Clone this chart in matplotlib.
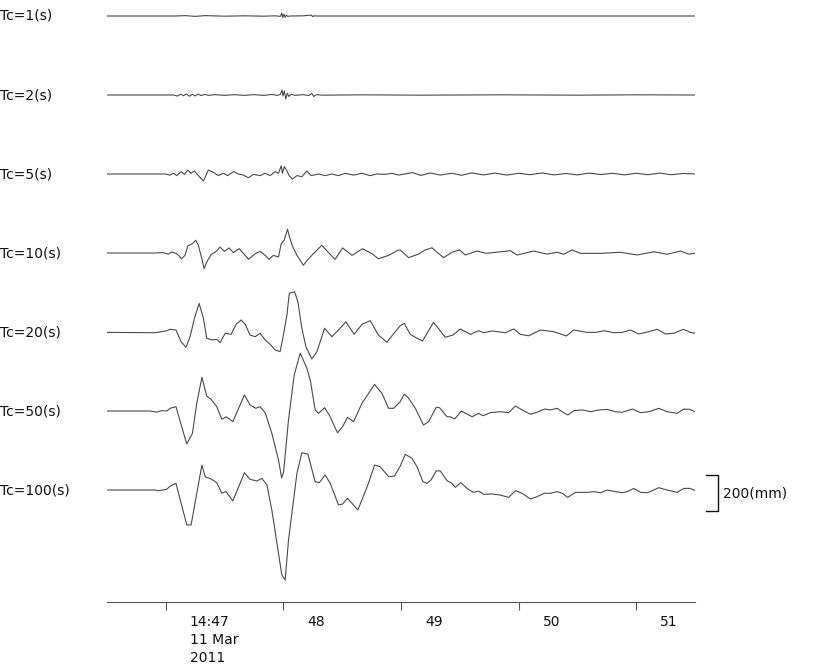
import matplotlib
matplotlib.use("Agg")
import matplotlib.pyplot as plt
import numpy as np

# ---- data: time in seconds after 14:46:30 (11 Mar 2011), amplitude in mm ----
labels = ["Tc=1(s)", "Tc=2(s)", "Tc=5(s)", "Tc=10(s)", "Tc=20(s)", "Tc=50(s)", "Tc=100(s)"]

t_1 = [0, 35, 40, 45, 50, 60, 70, 80, 86, 88.5, 89.2, 89.7, 90.3, 90.9, 91.5, 92.3, 93.5, 100, 104.3, 104.9, 105.6, 107, 150, 300]
a_1 = [0, 0, 2, -2, 2, -1, 1, -1, 1, -2, 16, -9, 10, -7, 4, -2, 0, 1, 5, -4, 1, 0, 0, 0]

t_2 = [0, 34, 36, 37.5, 39, 40.5, 42, 43.5, 45, 46.5, 48, 50, 52, 55, 60, 65, 70, 75, 80, 84, 87, 88.5, 89.3, 89.8, 90.5,
       91.2, 92, 92.8, 94, 96, 100, 103, 104.5, 105.5, 107, 110, 130, 160, 200, 240, 270, 300]
a_2 = [0, 0, -6, 5, -4, 6, -7, 4, -5, 5, -3, 3, -2, 2, -2, 2, -2, 2, -2, 3, -2, 4, 28, -5, 22,
       -22, 10, -8, 4, -2, 2, -3, 9, -8, 2, -1, 1, -1, 1, -1, 1, 0]

t_5 = [0, 29.6, 32.2, 33.9, 35.6, 37.8, 39.5, 41.2, 42.9, 44.6, 46.6, 49.2, 51.7, 54.3, 56.8, 59.4, 61.6, 64.5, 67.0,
       69.6, 72.2, 74.7, 78.1, 80.7, 83.2, 85.8, 87.5, 88.9, 89.5, 90.5, 91.8, 92.9, 94.6, 96.9, 99.4, 102.0, 104.2,
       107.9, 111.3, 114.7, 118.1, 121.5, 125.8, 130.1, 134.3, 137.7, 142.0, 145.4, 148.8, 151.8, 156, 160, 165, 170,
       176, 181, 186, 192, 198, 204, 210, 216, 222, 228, 234, 240, 246, 252, 258, 264, 270, 276, 282, 288, 294, 300]
a_5 = [0, 0, -6, 4, -9, 13, -2, 22, 4, 17, -9, -39, 22, 9, -9, 4, -9, 13, 0,
       -6, -21, -2, -9, 4, -9, 13, 4, 46, 4, 41, 17, -9, -28, -9, -15, 17, -9,
       0, -9, 0, -9, 4, -6, 4, -9, 0, -2, 4, -6, 0, 8, -8, 6, -6,
       4, -7, 6, -5, 5, -6, 4, -4, 6, -5, 3, -5, 5, -3, 4, -5, 4, -4, 5, -4, 3, 0]

t_10 = [0, 24.5, 28.7, 31.3, 33.0, 35.6, 38.1, 39.8, 41.2, 43.6, 45.3, 46.6, 48.4, 49.5, 50.9, 53.1, 55.7, 57.7, 59.9,
        62.3, 64.5, 67.4, 70.5, 72.2, 75.6, 78.1, 80.7, 82.7, 84.9, 87.5, 88.9, 90.4, 92.1, 93.1, 94.6, 96.9, 100.2,
        102.8, 106.2, 109.6, 113.0, 116.4, 120.2, 125.0, 130.4, 135.2, 138.5, 143.7, 148.4, 149.6, 153.9, 159.0, 162.4,
        165.8, 171.7, 176.0, 179.9, 182.8, 188.8, 193.5, 205.8, 209.2, 217.7, 224.5, 229.7, 233.0, 237.3, 241.5, 251.8,
        262.0, 270.5, 279.0, 285.8, 292.6, 296.8, 300]
a_10 = [0, 0, 2, -6, 6, -4, -32, -13, 39, 52, 71, 43, -32, -87, -50, -9, 9, 33, 9,
        28, 2, 24, -13, -35, -4, 9, -13, -35, -13, -22, 52, 71, 132, 89, 39, -13, -68,
        -32, 6, 43, 2, -35, 28, -13, 24, -4, -32, -13, 15, 17, -26, -6, 17,
        29, -26, 4, 17, -11, 11, -2, 13, -11, 11, -6, 4, -7, 17, -2, -2,
        4, -11, 7, -7, 11, -6, -2]

t_20 = [0, 24.5, 27.9, 30.5, 32.2, 35.2, 37.8, 40.3, 42.4, 44.6, 47.0, 49.2, 50.9, 53.5, 56.0, 57.7, 60.3, 63.3, 65.9,
        68.4, 70.5, 73.0, 75.6, 78.1, 80.7, 83.2, 85.8, 88.3, 89.7, 91.8, 93.0, 95.7, 97.4, 99.4, 101.5, 104.5, 107.1,
        111.0, 114.7, 118.1, 121.9, 126.1, 130.1, 134.3, 138.5, 142.8, 147.1, 149.6, 151.7, 154.7, 158.2, 161.0, 166.6,
        172.6, 176.5, 180.3, 185.4, 189.6, 192.2, 196.5, 203.3, 207.5, 210.9, 215.1, 221.1, 227.9, 234.4, 238.1, 245.0,
        249.2, 253.8, 258.6, 262.9, 267.1, 271.3, 276.4, 280.7, 285.0, 289.2, 294.0, 297.7, 300]
a_20 = [-2, -4, 2, 7, 15, 11, -54, -85, -26, 76, 159, 76, -35, -44, -41, -59, -7, -13, 43,
        67, 43, -17, -26, -7, -44, -68, -100, -109, -35, 94, 215, 224, 168, 21, -82, -150, -109,
        21, -26, 11, 57, -13, 43, 63, -17, -57, 2, 35, 48, -13, -35, -50, 54,
        -29, -17, 17, -13, 7, -4, 6, -4, 17, -13, -21, 11, 2, -22, 11, -2,
        -2, 7, -4, -2, 11, -11, 2, 15, -11, -7, 15, -2, -7]

t_50 = [0, 22.0, 25.4, 27.9, 30.5, 32.2, 35.2, 38.1, 40.7, 43.6, 45.8, 48.4, 50.9, 53.1, 56.0, 58.6, 60.8, 64.2, 70.1,
        73.0, 75.9, 78.1, 80.7, 84.1, 87.5, 89.1, 90.1, 92.6, 95.5, 98.6, 102.0, 103.7, 106.2, 107.9, 111.0, 113.4,
        117.6, 120.2, 122.7, 125.8, 130.1, 136.5, 140.3, 143.7, 146.2, 149.6, 151.7, 153.9, 157.3, 161.5, 164.1, 168.0,
        169.7, 173.5, 175.2, 177.4, 180.8, 186.3, 189.6, 191.9, 195.6, 200.7, 204.9, 208.4, 211.8, 216.0, 219.4, 223.2,
        226.2, 229.7, 232.2, 235.1, 238.2, 242.5, 246.7, 251.0, 255.2, 259.4, 262.9, 268.0, 272.2, 276.5, 281.5, 285.8,
        290.9, 294.3, 297.4, 300]
a_50 = [0, 0, -6, 2, 0, 15, 24, -87, -183, -124, 43, 187, 83, 65, 24, -46, -32, -59, 89,
        33, 15, 24, -9, -124, -272, -372, -339, -50, 200, 322, 237, 172, 6, -13, 18, -22,
        -121, -87, -35, -59, 43, 148, 98, 15, 15, 52, 94, 71, 15, -78, -59, 21,
        18, -32, -32, -44, 0, -32, -13, -26, -9, -4, -9, 28, 6, -18, -7, 11,
        6, 15, -4, -22, 2, 6, -4, 6, 9, -4, -7, 11, -9, -4, 15, -4,
        -13, 11, 9, -4]

t_100 = [0, 24.5, 26.2, 30.5, 32.2, 35.2, 40.7, 42.9, 48.4, 50.1, 53.1, 56.0, 58.6, 60.8, 64.2, 70.1, 73.0, 76.5, 79.0,
         81.6, 84.1, 87.5, 89.2, 90.9, 92.6, 96.9, 99.4, 102.5, 106.2, 108.3, 111.3, 113.9, 118.1, 120.2, 122.7, 125.0,
         128.0, 133.4, 136.5, 139.4, 143.7, 146.7, 149.6, 152.2, 155.6, 158.2, 161.2, 163.3, 165.3, 168.0, 170.1, 173.5,
         176.0, 177.7, 180.6, 183.7, 186.8, 189.6, 192.2, 196.5, 200.7, 204.9, 208.4, 211.8, 216.0, 219.4, 223.2, 226.2,
         229.7, 232.2, 235.1, 239.0, 245.0, 248.4, 251.8, 255.2, 259.4, 262.9, 265.4, 268.8, 272.2, 275.6, 278.2, 281.5,
         285.8, 290.9, 294.3, 297.4, 300]
a_100 = [0, 0, -4, 4, 22, 37, -194, -194, 139, 74, 61, 41, -18, -9, -61, 96, 59, 50, 65,
         28, -111, -352, -472, -500, -278, 93, 207, 200, 46, 41, 83, 37, -83, -78, -46, -74,
         -111, 37, 139, 129, 74, 78, 133, 198, 176, 129, 46, 37, 56, 107, 106, 52,
         37, 15, 41, 9, -13, -6, -24, -22, -28, -41, -4, -18, -50, -37, -18, -18,
         -9, -18, -41, -13, -13, -9, -15, 0, -9, -15, -9, 9, -13, -15, -4, 13,
         0, -13, 9, 9, -2]

times = [t_1, t_2, t_5, t_10, t_20, t_50, t_100]
amps = [a_1, a_2, a_5, a_10, a_20, a_50, a_100]

tick_secs = [30, 90, 150, 210, 270]
tick_labels = ["14:47\n11 Mar\n2011", "48", "49", "50", "51"]
scale_mm = 200
scale_label = "200(mm)"

# ---- layout ----
W, H = 819, 666
fig = plt.figure(figsize=(W / 100, H / 100), dpi=100)
px_left, px_right, px_top, px_bottom = 107, 695, 0, 602
ax = fig.add_axes([px_left / W, 1 - px_bottom / H, (px_right - px_left) / W, (px_bottom - px_top) / H])

spacing = 439.0          # mm between trace baselines
mm_per_px = 200 / 36.0
ax.set_xlim(0, 300)
ax.set_ylim(-6 * spacing - (602 - 490) * mm_per_px, 16 * mm_per_px)

line_color = "#4a4a4a"
for i, (t, a) in enumerate(zip(times, amps)):
    base = -i * spacing
    ax.plot(t, np.asarray(a) + base, color=line_color, lw=0.8)
    ax.text(-107 / 1.958, base, labels[i], ha="left", va="center", fontsize=10,
            color="#111111", clip_on=False)

for s in ["left", "right", "top"]:
    ax.spines[s].set_visible(False)
ax.spines["bottom"].set_color("#555555")
ax.spines["bottom"].set_linewidth(0.8)
ax.set_yticks([])
ax.set_xticks(tick_secs)
ax.set_xticklabels([])
ax.tick_params(axis="x", direction="out", length=6, width=0.8, color="#555555")

# tick annotations placed to the right of each tick
trans = ax.get_xaxis_transform()
for s, lab in zip(tick_secs, tick_labels):
    ax.text(s + 24 / 1.958, -0.022, lab, transform=trans, ha="left", va="top",
            fontsize=10, color="#111111", linespacing=1.35)

# scale bar
base100 = -6 * spacing
x0, x1 = (705 - 107) / 1.958, (717 - 107) / 1.958
y_lo = base100 - 117
y_hi = y_lo + scale_mm
ax.plot([x0, x1, x1, x0], [y_hi, y_hi, y_lo, y_lo], color="#111111", lw=1.0, clip_on=False)
ax.text((722 - 107) / 1.958, (y_lo + y_hi) / 2, scale_label, ha="left", va="center",
        fontsize=10, color="#111111", clip_on=False)

fig.savefig("out.png", dpi=100)
